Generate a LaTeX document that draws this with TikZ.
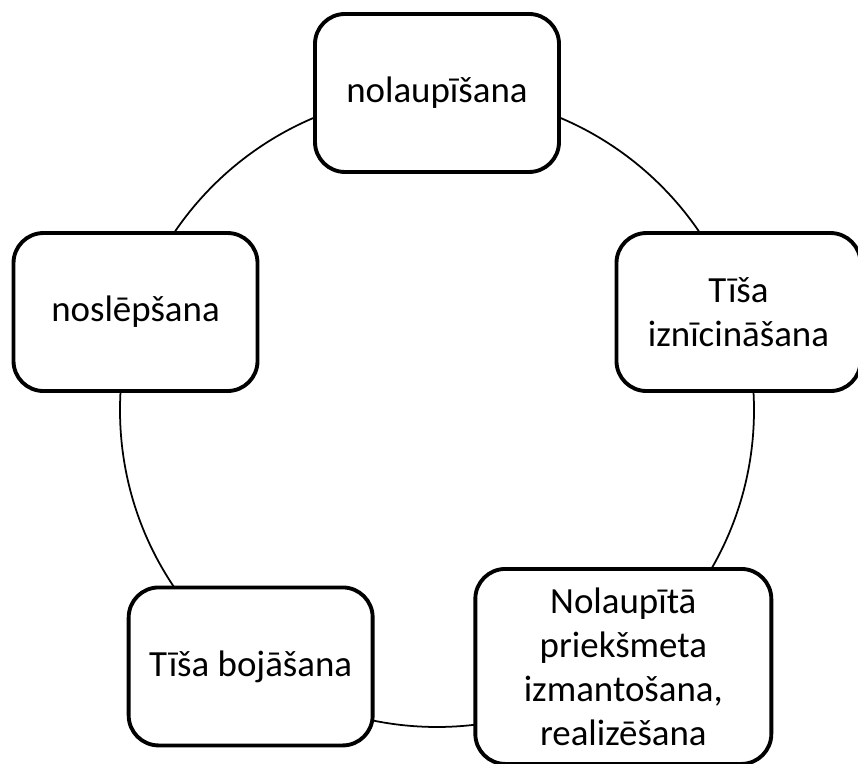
\documentclass[tikz,border=0pt]{standalone}
\usepackage{fontspec}
\setmainfont{Carlito}
\usetikzlibrary{positioning, calc}

\begin{document}
\begin{tikzpicture}[
    phase/.style={draw, line width=2.2pt, rounded corners=0.6cm,
      fill=white, minimum width=4.88cm, minimum height=3.16cm,
      align=center, font=\fontsize{21}{25}\selectfont}
  ]
  \useasboundingbox (0,0) rectangle (17.16,15.28);
  \coordinate (c) at (8.74,7.08);
  \draw[line width=1pt] (c) circle (6.34cm);

  \node[phase] (rob) at ($(c)+(90:6.34)$) {nolaupīšana};
  \node[phase] (destroy) at ($(c)+(18:6.34)$) {Tīša\\iznīcināšana};
  \node[phase, minimum width=5.92cm, minimum height=3.9cm]
    (use) at ($(c)+(-54:6.34)$)
    {Nolaupītā\\priekšmeta\\izmantošana,\\realizēšana};
  \node[phase] (damage) at ($(c)+(-126:6.34)$) {Tīša bojāšana};
  \node[phase] (hide) at ($(c)+(162:6.34)$) {noslēpšana};
\end{tikzpicture}
\end{document}
